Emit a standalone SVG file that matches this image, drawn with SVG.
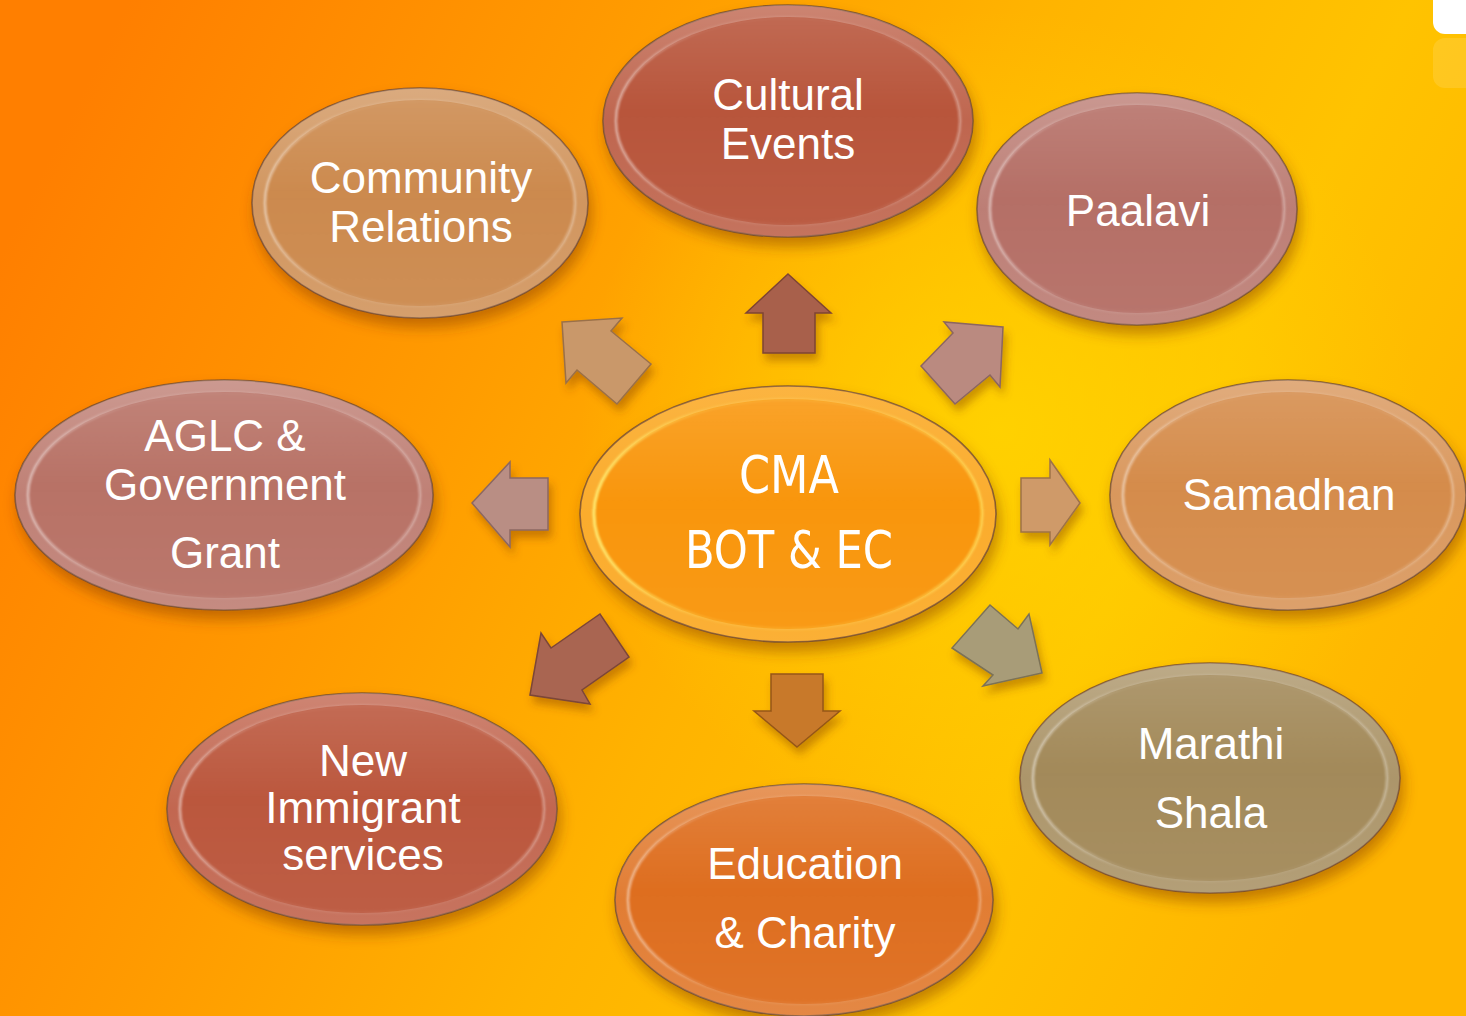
<svg xmlns="http://www.w3.org/2000/svg" width="1466" height="1016" viewBox="0 0 1466 1016">
<style>
.lbl{font-family:"Liberation Sans",Arial,sans-serif;font-size:44px;fill:#ffffff;text-anchor:middle}
.lblc{font-family:"Liberation Sans Narrow","DejaVu Sans Condensed","Liberation Sans",sans-serif;font-size:52px;fill:#ffffff;text-anchor:middle}
.rim{stroke:#6e4630;stroke-opacity:.8;stroke-width:1.6;filter:url(#sh)}
.rimhi{fill:url(#rimHi)}
.facehi{fill:url(#faceHi);stroke:url(#edgeHi);stroke-width:2.5;filter:url(#soft)}
.arr{stroke-width:1.5;filter:url(#ash)}
</style>
<defs>
<linearGradient id="bg" x1="0" y1="0.25" x2="1" y2="0.6">
<stop offset="0" stop-color="#ff7f00"/>
<stop offset="0.3" stop-color="#ff9a00"/>
<stop offset="0.55" stop-color="#ffb300"/>
<stop offset="0.78" stop-color="#ffc300"/>
<stop offset="1" stop-color="#ffb500"/>
</linearGradient>
<radialGradient id="glow" cx="1000" cy="430" r="420" gradientUnits="userSpaceOnUse">
<stop offset="0" stop-color="#ffd800" stop-opacity="0.75"/>
<stop offset="1" stop-color="#ffd800" stop-opacity="0"/>
</radialGradient>
<linearGradient id="rimHi" x1="0" y1="0" x2="0" y2="1">
<stop offset="0" stop-color="#ffffff" stop-opacity="0.28"/>
<stop offset="0.5" stop-color="#ffffff" stop-opacity="0.1"/>
<stop offset="1" stop-color="#ffffff" stop-opacity="0.18"/>
</linearGradient>
<linearGradient id="faceHi" x1="0" y1="0" x2="0" y2="1">
<stop offset="0" stop-color="#ffffff" stop-opacity="0.12"/>
<stop offset="0.45" stop-color="#ffffff" stop-opacity="0"/>
<stop offset="1" stop-color="#ffffff" stop-opacity="0.04"/>
</linearGradient>
<linearGradient id="edgeHi" x1="0" y1="0" x2="1" y2="0">
<stop offset="0" stop-color="#ffffff" stop-opacity="0.5"/>
<stop offset="0.25" stop-color="#ffffff" stop-opacity="0.08"/>
<stop offset="0.75" stop-color="#ffffff" stop-opacity="0.05"/>
<stop offset="1" stop-color="#ffffff" stop-opacity="0.35"/>
</linearGradient>
<linearGradient id="edgeY" x1="0" y1="0" x2="1" y2="0">
<stop offset="0" stop-color="#fff27a" stop-opacity="0.9"/>
<stop offset="0.3" stop-color="#ffe060" stop-opacity="0.2"/>
<stop offset="0.7" stop-color="#ffe060" stop-opacity="0.2"/>
<stop offset="1" stop-color="#ffe060" stop-opacity="0.75"/>
</linearGradient>
<filter id="sh" x="-20%" y="-20%" width="140%" height="150%">
<feDropShadow dx="3" dy="9" stdDeviation="7" flood-color="#7a3600" flood-opacity="0.45"/>
</filter>
<filter id="soft" x="-5%" y="-5%" width="110%" height="110%">
<feGaussianBlur stdDeviation="0.8"/>
</filter>
<filter id="ash" x="-30%" y="-30%" width="160%" height="160%">
<feDropShadow dx="3" dy="7" stdDeviation="4" flood-color="#7a3a00" flood-opacity="0.4"/>
</filter>
</defs>

<rect width="1466" height="1016" fill="url(#bg)"/>
<rect width="1466" height="1016" fill="url(#glow)"/>

<g id="corner-badge">
<rect x="1433" y="-12" width="50" height="46" rx="12" fill="#ffffff"/>
<rect x="1433" y="38" width="50" height="50" rx="12" fill="#ffffff" opacity="0.12"/>
</g>

<g id="connectors">
<polygon class="arr" fill="#c9986a" stroke="#9a7048" points="562,322 622,318 611,331 651,364 617,404 577,370 566,383"/>
<polygon class="arr" fill="#a8614b" stroke="#7e4434" points="788,274 831,313 815,313 815,353 763,353 763,313 746,313"/>
<polygon class="arr" fill="#ba8a80" stroke="#8c6660" points="1003,327 944,322 953,333 921,366 955,404 990,375 1000,387"/>
<polygon class="arr" fill="#b98e84" stroke="#8c6862" points="472,503 510,462 510,478 548,478 548,530 510,530 510,547"/>
<polygon class="arr" fill="#cf9a69" stroke="#9e7248" points="1080,503 1050,460 1050,478 1021,478 1021,532 1050,532 1050,545"/>
<polygon class="arr" fill="#a96551" stroke="#7c4638" points="530,695 541,633 551,648 600,614 629,657 582,690 590,704"/>
<polygon class="arr" fill="#c8792a" stroke="#955618" points="797,747 840,711 823,711 823,674 771,674 771,711 754,711"/>
<polygon class="arr" fill="#a89c78" stroke="#7c7256" points="1042,673 1029,614 1018,629 990,605 952,648 993,675 983,686"/>
</g>

<g id="n-cultural" transform="translate(788,121)">
<ellipse class="rim" rx="185" ry="116" fill="#b8553b"/>
<ellipse class="rimhi" rx="185" ry="116"/>
<ellipse rx="172" ry="104" fill="#b8553b"/>
<ellipse class="facehi" rx="172" ry="104"/>
<text class="lbl" x="0" y="-11">Cultural</text>
<text class="lbl" x="0" y="38">Events</text>
</g>

<g id="n-community" transform="translate(420,203)">
<ellipse class="rim" rx="168" ry="115" fill="#cc8a4e"/>
<ellipse class="rimhi" rx="168" ry="115"/>
<ellipse rx="155" ry="103" fill="#cc8a4e"/>
<ellipse class="facehi" rx="155" ry="103"/>
<text class="lbl" x="1" y="-10">Community</text>
<text class="lbl" x="1" y="39">Relations</text>
</g>

<g id="n-paalavi" transform="translate(1137,209)">
<ellipse class="rim" rx="160" ry="116" fill="#b56f66"/>
<ellipse class="rimhi" rx="160" ry="116"/>
<ellipse rx="147" ry="104" fill="#b56f66"/>
<ellipse class="facehi" rx="147" ry="104"/>
<text class="lbl" x="1" y="17">Paalavi</text>
</g>

<g id="n-aglc" transform="translate(224,495)">
<ellipse class="rim" rx="209" ry="115" fill="#b87266"/>
<ellipse class="rimhi" rx="209" ry="115"/>
<ellipse rx="196" ry="103" fill="#b87266"/>
<ellipse class="facehi" rx="196" ry="103"/>
<text class="lbl" x="1" y="-44">AGLC &amp;</text>
<text class="lbl" x="1" y="5">Government</text>
<text class="lbl" x="1" y="73">Grant</text>
</g>

<g id="n-samadhan" transform="translate(1288,495)">
<ellipse class="rim" rx="178" ry="115" fill="#d58c4b"/>
<ellipse class="rimhi" rx="178" ry="115"/>
<ellipse rx="165" ry="103" fill="#d58c4b"/>
<ellipse class="facehi" rx="165" ry="103"/>
<text class="lbl" x="1" y="15">Samadhan</text>
</g>

<g id="n-cma" transform="translate(788,514)">
<ellipse class="rim" rx="208" ry="128" fill="#fba822"/>
<ellipse rx="208" ry="128" fill="url(#rimHi)" opacity="0.5"/>
<ellipse rx="194" ry="115" fill="#f9960c"/>
<ellipse rx="194" ry="115" fill="url(#faceHi)" stroke="url(#edgeY)" stroke-width="3" filter="url(#soft)"/>
<text class="lblc" x="1" y="-21" textLength="100" lengthAdjust="spacingAndGlyphs">CMA</text>
<text class="lblc" x="1" y="54" textLength="208" lengthAdjust="spacingAndGlyphs">BOT &amp; EC</text>
</g>

<g id="n-newimm" transform="translate(362,809)">
<ellipse class="rim" rx="195" ry="116" fill="#bb573d"/>
<ellipse class="rimhi" rx="195" ry="116"/>
<ellipse rx="182" ry="104" fill="#bb573d"/>
<ellipse class="facehi" rx="182" ry="104"/>
<text class="lbl" x="1" y="-33">New</text>
<text class="lbl" x="1" y="14">Immigrant</text>
<text class="lbl" x="1" y="61">services</text>
</g>

<g id="n-edu" transform="translate(804,900)">
<ellipse class="rim" rx="189" ry="116" fill="#de6e1f"/>
<ellipse class="rimhi" rx="189" ry="116"/>
<ellipse rx="176" ry="104" fill="#de6e1f"/>
<ellipse class="facehi" rx="176" ry="104"/>
<text class="lbl" x="1" y="-21">Education</text>
<text class="lbl" x="1" y="48">&amp; Charity</text>
</g>

<g id="n-marathi" transform="translate(1210,778)">
<ellipse class="rim" rx="190" ry="115" fill="#a38a5a"/>
<ellipse class="rimhi" rx="190" ry="115"/>
<ellipse rx="177" ry="103" fill="#a38a5a"/>
<ellipse class="facehi" rx="177" ry="103"/>
<text class="lbl" x="1" y="-19">Marathi</text>
<text class="lbl" x="1" y="50">Shala</text>
</g>
</svg>
